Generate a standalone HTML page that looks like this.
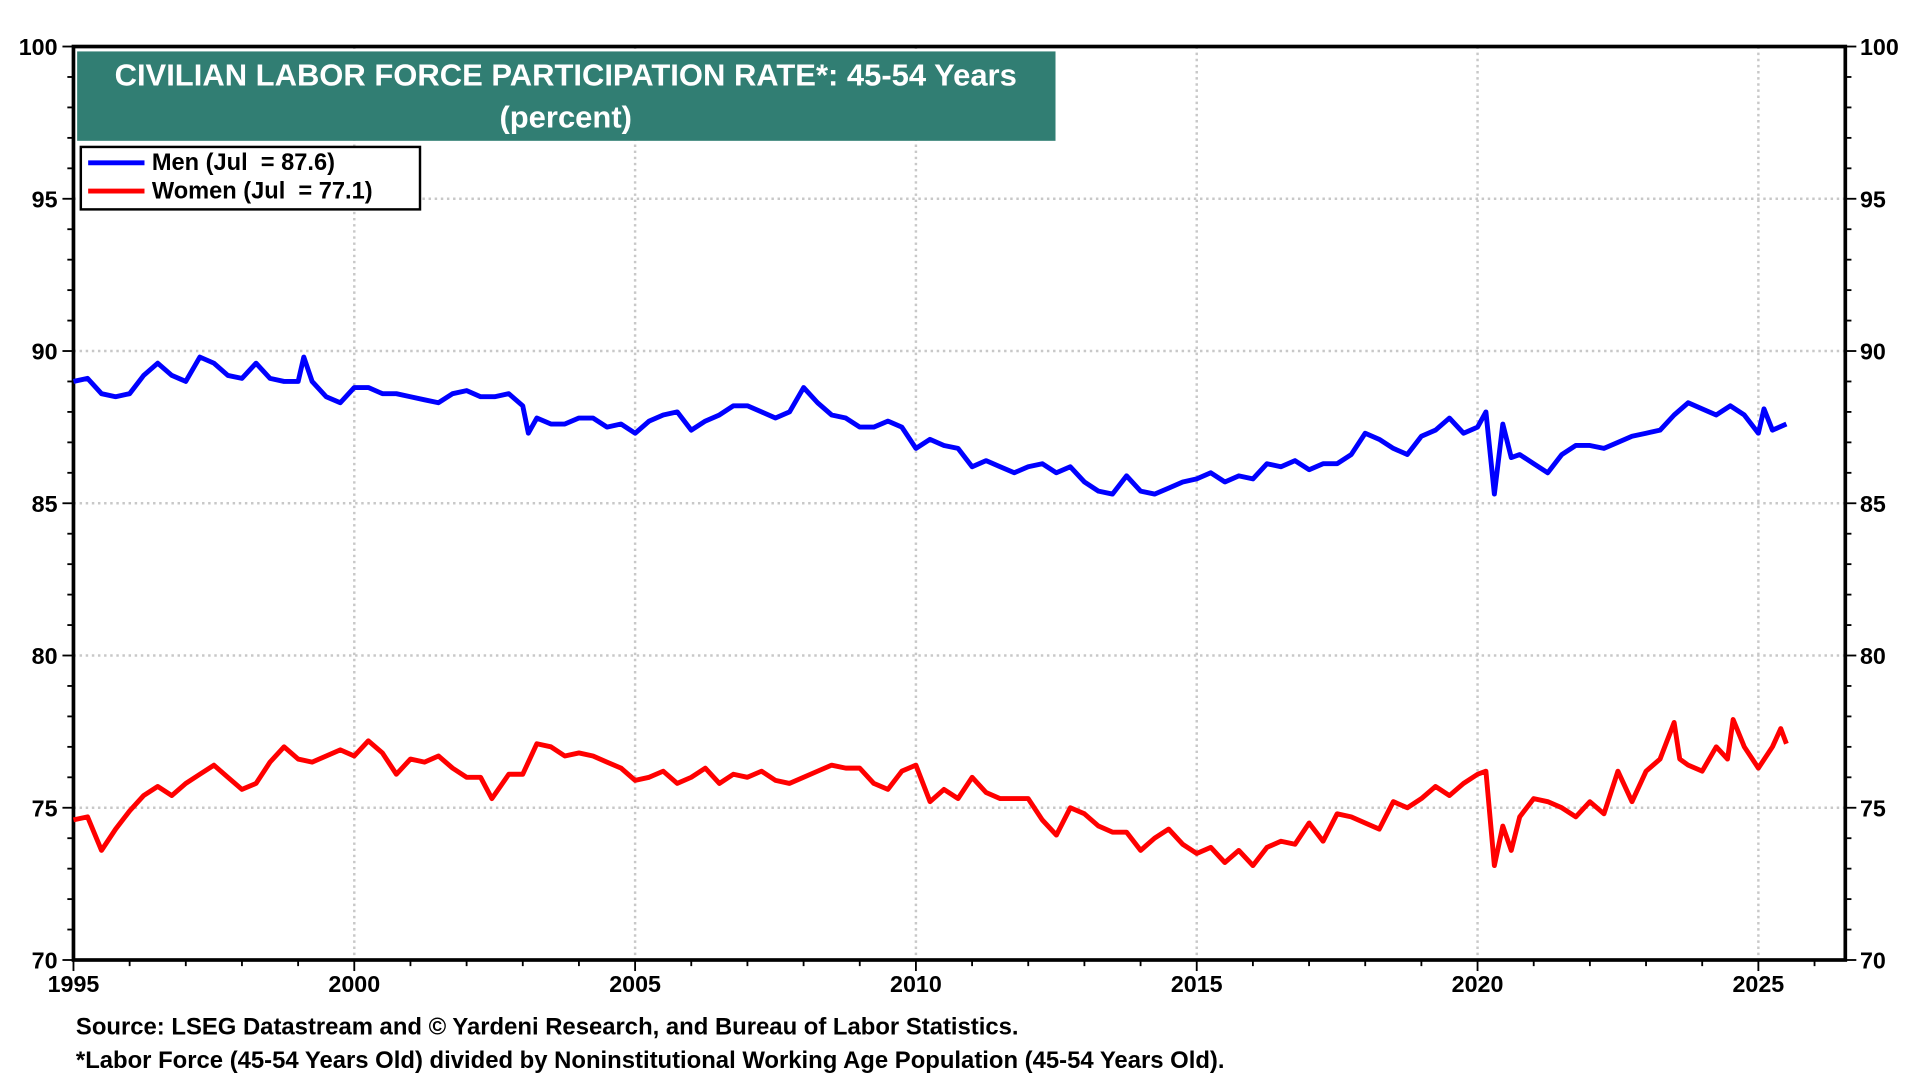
<!DOCTYPE html>
<html><head><meta charset="utf-8"><style>
html,body{margin:0;padding:0;background:#fff;width:1920px;height:1080px;overflow:hidden}
text{font-family:"Liberation Sans",Arial,sans-serif;font-weight:bold;white-space:pre}
</style></head><body>
<svg id="chart" width="1920" height="1080" viewBox="0 0 1568 882" xmlns="http://www.w3.org/2000/svg">
<g id="grid"></g>
<g id="axes"></g>
<g id="series"></g>
<rect x="63" y="42" width="799" height="73" fill="#317e73"/>
<text x="462" y="70" fill="#fff" font-size="25.3" text-anchor="middle">CIVILIAN LABOR FORCE PARTICIPATION RATE*: 45-54 Years</text>
<text x="462" y="104" fill="#fff" font-size="25.3" text-anchor="middle">(percent)</text>
<g>
<rect x="66" y="120" width="277" height="51" fill="#fff" stroke="#000" stroke-width="2"/>
<line x1="72" y1="133" x2="118" y2="133" stroke="#0000ff" stroke-width="4"/>
<text x="124" y="139" font-size="19.3" xml:space="preserve">Men (Jul  = 87.6)</text>
<line x1="72" y1="156" x2="118" y2="156" stroke="#ff0000" stroke-width="4"/>
<text x="124" y="162" font-size="19.3" xml:space="preserve">Women (Jul  = 77.1)</text>
</g>
<text x="62" y="845" font-size="19.5">Source: LSEG Datastream and © Yardeni Research, and Bureau of Labor Statistics.</text>
<text x="62" y="872" font-size="19.5">*Labor Force (45-54 Years Old) divided by Noninstitutional Working Age Population (45-54 Years Old).</text>
</svg>
<script>
const yTicks=[70,75,80,85,90,95,100];
const xTicks=[1995,2000,2005,2010,2015,2020,2025];
const menDates=[1995,1995.25,1995.5,1995.75,1996,1996.25,1996.5,1996.75,1997,1997.25,1997.5,1997.75,1998,1998.25,1998.5,1998.75,1999,1999.1,1999.25,1999.5,1999.75,2000,2000.25,2000.5,2000.75,2001,2001.25,2001.5,2001.75,2002,2002.25,2002.5,2002.75,2003,2003.1,2003.25,2003.5,2003.75,2004,2004.25,2004.5,2004.75,2005,2005.25,2005.5,2005.75,2006,2006.25,2006.5,2006.75,2007,2007.25,2007.5,2007.75,2008,2008.25,2008.5,2008.75,2009,2009.25,2009.5,2009.75,2010,2010.25,2010.5,2010.75,2011,2011.25,2011.5,2011.75,2012,2012.25,2012.5,2012.75,2013,2013.25,2013.5,2013.75,2014,2014.25,2014.5,2014.75,2015,2015.25,2015.5,2015.75,2016,2016.25,2016.5,2016.75,2017,2017.25,2017.5,2017.75,2018,2018.25,2018.5,2018.75,2019,2019.25,2019.5,2019.75,2020,2020.15,2020.3,2020.45,2020.6,2020.75,2021,2021.25,2021.5,2021.75,2022,2022.25,2022.5,2022.75,2023,2023.25,2023.5,2023.75,2024,2024.25,2024.5,2024.75,2025,2025.1,2025.25,2025.5];
const menValues=[89.0,89.1,88.6,88.5,88.6,89.2,89.6,89.2,89.0,89.8,89.6,89.2,89.1,89.6,89.1,89.0,89.0,89.8,89.0,88.5,88.3,88.8,88.8,88.6,88.6,88.5,88.4,88.3,88.6,88.7,88.5,88.5,88.6,88.2,87.3,87.8,87.6,87.6,87.8,87.8,87.5,87.6,87.3,87.7,87.9,88.0,87.4,87.7,87.9,88.2,88.2,88.0,87.8,88.0,88.8,88.3,87.9,87.8,87.5,87.5,87.7,87.5,86.8,87.1,86.9,86.8,86.2,86.4,86.2,86.0,86.2,86.3,86.0,86.2,85.7,85.4,85.3,85.9,85.4,85.3,85.5,85.7,85.8,86.0,85.7,85.9,85.8,86.3,86.2,86.4,86.1,86.3,86.3,86.6,87.3,87.1,86.8,86.6,87.2,87.4,87.8,87.3,87.5,88.0,85.3,87.6,86.5,86.6,86.3,86.0,86.6,86.9,86.9,86.8,87.0,87.2,87.3,87.4,87.9,88.3,88.1,87.9,88.2,87.9,87.3,88.1,87.4,87.6];
const womenDates=[1995,1995.25,1995.5,1995.75,1996,1996.25,1996.5,1996.75,1997,1997.25,1997.5,1997.75,1998,1998.25,1998.5,1998.75,1999,1999.25,1999.5,1999.75,2000,2000.25,2000.5,2000.75,2001,2001.25,2001.5,2001.75,2002,2002.25,2002.45,2002.75,2003,2003.25,2003.5,2003.75,2004,2004.25,2004.5,2004.75,2005,2005.25,2005.5,2005.75,2006,2006.25,2006.5,2006.75,2007,2007.25,2007.5,2007.75,2008,2008.25,2008.5,2008.75,2009,2009.25,2009.5,2009.75,2010,2010.25,2010.5,2010.75,2011,2011.25,2011.5,2011.75,2012,2012.25,2012.5,2012.75,2013,2013.25,2013.5,2013.75,2014,2014.25,2014.5,2014.75,2015,2015.25,2015.5,2015.75,2016,2016.25,2016.5,2016.75,2017,2017.25,2017.5,2017.75,2018,2018.25,2018.5,2018.75,2019,2019.25,2019.5,2019.75,2020,2020.15,2020.3,2020.45,2020.6,2020.75,2021,2021.25,2021.5,2021.75,2022,2022.25,2022.5,2022.75,2023,2023.25,2023.5,2023.6,2023.75,2024,2024.25,2024.45,2024.55,2024.75,2025,2025.25,2025.4,2025.5];
const womenValues=[74.6,74.7,73.6,74.3,74.9,75.4,75.7,75.4,75.8,76.1,76.4,76.0,75.6,75.8,76.5,77.0,76.6,76.5,76.7,76.9,76.7,77.2,76.8,76.1,76.6,76.5,76.7,76.3,76.0,76.0,75.3,76.1,76.1,77.1,77.0,76.7,76.8,76.7,76.5,76.3,75.9,76.0,76.2,75.8,76.0,76.3,75.8,76.1,76.0,76.2,75.9,75.8,76.0,76.2,76.4,76.3,76.3,75.8,75.6,76.2,76.4,75.2,75.6,75.3,76.0,75.5,75.3,75.3,75.3,74.6,74.1,75.0,74.8,74.4,74.2,74.2,73.6,74.0,74.3,73.8,73.5,73.7,73.2,73.6,73.1,73.7,73.9,73.8,74.5,73.9,74.8,74.7,74.5,74.3,75.2,75.0,75.3,75.7,75.4,75.8,76.1,76.2,73.1,74.4,73.6,74.7,75.3,75.2,75.0,74.7,75.2,74.8,76.2,75.2,76.2,76.6,77.8,76.6,76.4,76.2,77.0,76.6,77.9,77.0,76.3,77.0,77.6,77.1];

const L=60,R=1507,T=38,B=784;
const xs=y=>L+(y-1995)*(1436-60)/30;
const ys=v=>B-(v-70)*(B-T)/30;
const NS="http://www.w3.org/2000/svg";
function mk(tag,parent,attrs){const e=document.createElementNS(NS,tag);for(const k in attrs)e.setAttribute(k,attrs[k]);parent.appendChild(e);return e;}
const grid=document.getElementById('grid'),axes=document.getElementById('axes'),series=document.getElementById('series');
yTicks.forEach(v=>{
 if(v>70&&v<100){const g=mk('line',grid,{x1:L,x2:R,y1:ys(v),y2:ys(v),stroke:'#c8c8c8','stroke-width':2,'stroke-dasharray':'2,3'});
 
 }
 const t1=mk('text',axes,{x:47,y:ys(v)+7,'font-size':19,'text-anchor':'end'});t1.textContent=v;
 
 
 const t2=mk('text',axes,{x:1519,y:ys(v)+7,'font-size':19});t2.textContent=v;
 
 
});
for(let v=70;v<=100;v++){const len=(v%5===0)?9:5;
 mk('line',axes,{x1:L-len,x2:L,y1:ys(v),y2:ys(v),stroke:'#000','stroke-width':1.5});
 mk('line',axes,{x1:R,x2:R+len,y1:ys(v),y2:ys(v),stroke:'#000','stroke-width':1.5});}
xTicks.forEach(y=>{
 if(y>1995){const g=mk('line',grid,{x1:xs(y),x2:xs(y),y1:T,y2:B,stroke:'#c8c8c8','stroke-width':2,'stroke-dasharray':'2,3'});
 
 }
 const t=mk('text',axes,{x:xs(y),y:810,'font-size':19,'text-anchor':'middle'});t.textContent=y;
 
 
});
for(let y=1995;y<=2026;y++){const len=(y%5===0)?9:5;mk('line',axes,{x1:xs(y),x2:xs(y),y1:B,y2:B+len,stroke:'#000','stroke-width':1.5});}
const frame=mk('rect',axes,{x:L,y:T,width:R-L,height:B-T,fill:'none',stroke:'#000','stroke-width':3});


function line(d,v,c,name){const p=mk('path',series,{d:d.map((x,i)=>(i?'L':'M')+xs(x).toFixed(1)+','+ys(v[i]).toFixed(1)).join(''),fill:'none',stroke:c,'stroke-width':4,'stroke-linejoin':'round'});
 
 }
line(menDates,menValues,'#0000ff','men-line');
line(womenDates,womenValues,'#ff0000','women-line');
</script>
</body></html>
